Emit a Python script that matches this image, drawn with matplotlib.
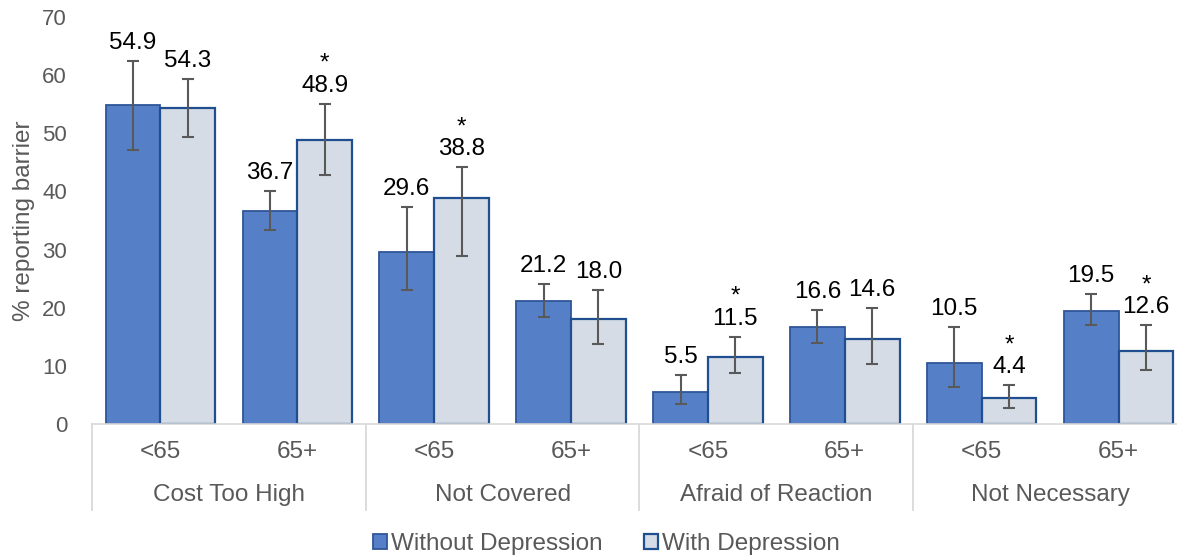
import matplotlib.pyplot as plt
import matplotlib.transforms as mtransforms
from matplotlib.patches import Patch
import numpy as np

plt.rcParams['font.family'] = ['Liberation Sans', 'DejaVu Sans']

# barrier groups and age bands
categories = ["Cost Too High", "Not Covered", "Afraid of Reaction", "Not Necessary"]
age_groups = ["<65", "65+"]

# % reporting barrier, one value per (category, age) slot
without_dep = [54.9, 36.7, 29.6, 21.2, 5.5, 16.6, 10.5, 19.5]
with_dep = [54.3, 48.9, 38.8, 18.0, 11.5, 14.6, 4.4, 12.6]

# 95% CI bounds
without_lo = [47.2, 33.4, 23.1, 18.4, 3.4, 14.0, 6.4, 17.1]
without_hi = [62.5, 40.1, 37.3, 24.1, 8.4, 19.6, 16.7, 22.3]
with_lo = [49.4, 42.9, 28.9, 13.8, 8.8, 10.4, 2.8, 9.3]
with_hi = [59.3, 55.1, 44.2, 23.1, 15.0, 20.0, 6.7, 17.0]

# significant difference marker for the "with" bar
with_sig = [False, True, True, False, True, False, True, True]

c_without = "#5580C8"
c_with = "#D6DCE5"
edge_without = "#2F5597"
edge_with = "#1F4E91"
grey = "#595959"
fs = 17.5

fig = plt.figure(figsize=(11.77, 5.58), dpi=100)
ax = fig.add_axes([92 / 1177, 134 / 558, (1187 - 92) / 1177, 407 / 558])

x = np.arange(len(without_dep))
w = 0.4
wo = np.array(without_dep)
wi = np.array(with_dep)

ax.bar(x - w / 2, wo, w, color=c_without, edgecolor=edge_without, linewidth=1.3, zorder=2)
ax.bar(x + w / 2, wi, w, color=c_with, edgecolor=edge_with, linewidth=1.6, zorder=2)

err_wo = [wo - np.array(without_lo), np.array(without_hi) - wo]
err_wi = [wi - np.array(with_lo), np.array(with_hi) - wi]
ax.errorbar(x - w / 2, wo, yerr=err_wo, fmt='none', ecolor=grey, elinewidth=1.5,
            capsize=4.5, capthick=1.5, zorder=3)
ax.errorbar(x + w / 2, wi, yerr=err_wi, fmt='none', ecolor=grey, elinewidth=1.5,
            capsize=4.5, capthick=1.5, zorder=3)

# value labels above the error bars
for i in range(len(x)):
    ax.text(x[i] - w / 2, without_hi[i] + 1.2, f"{without_dep[i]:.1f}",
            ha='center', va='bottom', fontsize=fs, color='black')
    label = f"{with_dep[i]:.1f}"
    if with_sig[i]:
        label = "*\n" + label
    ax.text(x[i] + w / 2, with_hi[i] + 1.2, label, ha='center', va='bottom',
            fontsize=fs, color='black', linespacing=1.0)

ax.set_xlim(-0.5, len(x) - 0.5)
ax.set_ylim(0, 70)
ax.set_yticks(range(0, 71, 10))
ax.tick_params(axis='y', length=0, labelsize=16, labelcolor=grey, pad=18)
ax.set_xticks([])
for s in ['top', 'right', 'left']:
    ax.spines[s].set_visible(False)
ax.spines['bottom'].set_color("#D9D9D9")
ax.spines['bottom'].set_linewidth(1.2)
ax.set_ylabel("% reporting barrier", fontsize=fs, color=grey, labelpad=5)

# two-level category axis
trans = mtransforms.blended_transform_factory(ax.transData, ax.transAxes)
for i in range(len(x)):
    ax.text(x[i], -0.07, age_groups[i % 2], transform=trans, ha='center', va='center',
            fontsize=fs, color=grey)
for j, cat in enumerate(categories):
    ax.text(2 * j + 0.5, -0.175, cat, transform=trans, ha='center', va='center',
            fontsize=fs, color=grey)
for b in np.arange(-0.5, len(x), 2):
    ax.plot([b, b], [0, -0.212], transform=trans, color="#D9D9D9", lw=1.3, clip_on=False)

handles = [Patch(facecolor=c_without, edgecolor=edge_without, linewidth=1.3),
           Patch(facecolor=c_with, edgecolor=edge_with, linewidth=1.6)]
fig.legend(handles, ["Without Depression", "With Depression"], loc='center',
           bbox_to_anchor=(0.515, 0.025), ncol=2, frameon=False, fontsize=fs,
           handlelength=0.6, handleheight=0.6, handletextpad=0.15, columnspacing=1.7,
           labelcolor=grey)

fig.savefig("out.png", dpi=100)
